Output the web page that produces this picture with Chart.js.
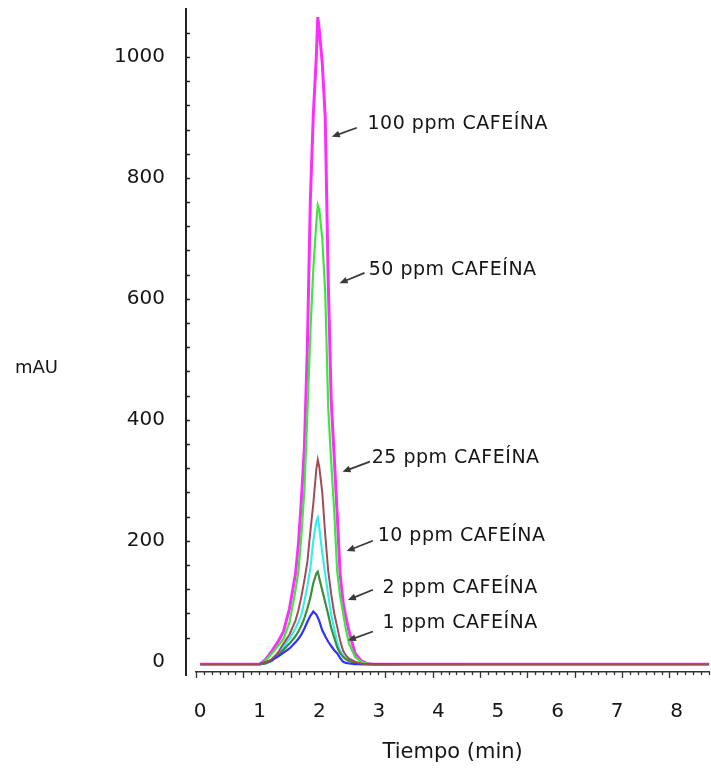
<!DOCTYPE html>
<html><head><meta charset="utf-8">
<script src="https://cdn.jsdelivr.net/npm/chart.js@4.4.1/dist/chart.umd.min.js"></script>
<style>html,body{margin:0;padding:0;background:#fff;} #wrap{width:711px;height:769px;}</style>
</head><body><div id="wrap"><canvas id="c" width="711" height="769"></canvas></div>
<script>
// ---- data (time in min, absorbance in mAU) ----
const times = [0, 0.5, 1.0, 1.1, 1.2, 1.3, 1.4, 1.5, 1.6, 1.65, 1.7, 1.75, 1.8, 1.85, 1.9, 1.95, 1.975, 2.0, 2.05, 2.1, 2.15, 2.2, 2.25, 2.3, 2.35, 2.4, 2.45, 2.5, 2.6, 2.7, 2.8, 2.9, 3.0, 3.35, 3.6, 4.0, 4.45, 5.0, 6.0, 7.0, 8.0, 8.55];
const ppm100 = [-4,-4,-4,4,17,32,50,88,145,195,268,355,520,764,905,1000,1066,1045,990,900,630,433,340,245,145,98,72,50,14,2,-3,-4,-4,-4,-4,-4,-4,-4,-4,-4,-4,-4];
const ppm50  = [null,null,-4,2,13,25,38,65,118,150,210,285,410,545,650,725,755,748,700,610,420,330,250,150,108,80,52,30,8,0,-3,-4,null,null,null,null,null,null,null,null,null,null];
const ppm25  = [-4,-4,-4,-1,4,14,30,45,68,85,108,135,165,215,262,318,334,322,280,210,150,112,80,58,35,18,10,5,0,-3,-4,-4,-4,-4,-4,-4,-4,-4,-4,-4,-4,-4];
const ppm10  = [null,null,-4,-3,2,10,24,38,55,66,78,100,125,155,200,232,238,222,180,145,110,78,55,32,18,10,5,2,-2,-4,-4,-4,null,null,null,null,null,null,null,null,null,null];
const ppm2   = [null,null,-4,-3,1,10,20,30,42,50,60,72,88,106,130,146,149,138,118,98,78,56,40,24,14,8,4,1,-2,-4,-4,-4,-4,-4,-4,-4,-4,null,null,null,null,null];
const ppm1   = [null,null,-4,-1,3,8,15,22,32,38,45,55,66,76,83,78,73,67,52,42,33,26,19,14,6,0,-2,-3,-4,-4,-4,-4,-4,-4,null,null,null,null,null,null,null,null];

const seriesNames = ["100 ppm CAFEÍNA","50 ppm CAFEÍNA","25 ppm CAFEÍNA","10 ppm CAFEÍNA","2 ppm CAFEÍNA","1 ppm CAFEÍNA"];
const xTickValues = [0,1,2,3,4,5,6,7,8];
const yTickValues = [0,200,400,600,800,1000];

// annotation anchors (data units)
const labelT = [2.81, 2.83, 2.88, 2.98, 3.06, 3.06];
const labelV = [889, 648, 336, 207, 121, 64];
const arrowFromT = [2.63, 2.76, 2.85, 2.90, 2.90, 2.90];
const arrowFromV = [883, 643, 331, 200, 119, 50];
const arrowToT = [2.21, 2.34, 2.39, 2.46, 2.48, 2.48];
const arrowToV = [868, 626, 314, 183, 102, 35];

const FONT = "'DejaVu Sans', sans-serif";

const decor = {
  id: 'decor',
  afterDatasetsDraw(chart) {
    const ctx = chart.ctx, xs = chart.scales.x, ys = chart.scales.y, ca = chart.chartArea;
    ctx.save();
    // y axis line (offset left of plot)
    const yx = ca.left - 10;
    ctx.strokeStyle = '#222'; ctx.lineWidth = 2;
    ctx.beginPath(); ctx.moveTo(yx, ca.top); ctx.lineTo(yx, ca.bottom + 4); ctx.stroke();
    ctx.lineWidth = 1.5;
    for (let v = 40; v <= 1060; v += 40) {
      const py = Math.round(ys.getPixelForValue(v)) + 0.5;
      ctx.beginPath(); ctx.moveTo(yx, py); ctx.lineTo(yx + 4, py); ctx.stroke();
    }
    // x minor ticks
    ctx.strokeStyle = '#333'; ctx.lineWidth = 1.3;
    for (let k = 0; ; k++) {
      const t = -0.07 + k * 0.1325;
      if (t > xs.max) break;
      const px = Math.round(xs.getPixelForValue(t)) + 0.5;
      ctx.beginPath(); ctx.moveTo(px, ca.bottom); ctx.lineTo(px, ca.bottom + (k % 6 === 0 ? 6 : 3)); ctx.stroke();
    }
    // annotations
    ctx.fillStyle = '#161616';
    ctx.font = "19px " + FONT;
    ctx.textBaseline = 'middle'; ctx.textAlign = 'left';
    try { ctx.letterSpacing = '0.5px'; } catch(e) {}
    for (let i = 0; i < seriesNames.length; i++) {
      ctx.fillText(seriesNames[i], xs.getPixelForValue(labelT[i]), ys.getPixelForValue(labelV[i]));
      const x1 = xs.getPixelForValue(arrowFromT[i]), y1 = ys.getPixelForValue(arrowFromV[i]);
      const x2 = xs.getPixelForValue(arrowToT[i]), y2 = ys.getPixelForValue(arrowToV[i]);
      const ang = Math.atan2(y2 - y1, x2 - x1);
      ctx.strokeStyle = '#3a3a3a'; ctx.lineWidth = 1.8;
      ctx.beginPath(); ctx.moveTo(x1, y1); ctx.lineTo(x2 - 5 * Math.cos(ang), y2 - 5 * Math.sin(ang)); ctx.stroke();
      ctx.fillStyle = '#3a3a3a';
      ctx.beginPath();
      ctx.moveTo(x2, y2);
      ctx.lineTo(x2 - 8 * Math.cos(ang) + 3.5 * Math.sin(ang), y2 - 8 * Math.sin(ang) - 3.5 * Math.cos(ang));
      ctx.lineTo(x2 - 8 * Math.cos(ang) - 3.5 * Math.sin(ang), y2 - 8 * Math.sin(ang) + 3.5 * Math.cos(ang));
      ctx.closePath(); ctx.fill();
      ctx.fillStyle = '#161616';
    }
    try { ctx.letterSpacing = '0px'; } catch(e) {}
    // y axis title
    ctx.font = "18px " + FONT;
    ctx.fillText('mAU', 15, 368);
    ctx.restore();
  }
};

function ds(label, data, color, width, order) {
  return { label, borderColor: color, backgroundColor: color, borderWidth: width,
           pointRadius: 0, tension: 0, spanGaps: false, order, fill: false,
           data: data.map((v, i) => ({ x: times[i], y: v })) };
}

new Chart(document.getElementById('c'), {
  type: 'line',
  data: {
    datasets: [
      ds(seriesNames[0], ppm100, '#ff2bff', 3, 6),
      ds(seriesNames[1], ppm50, '#3ce83c', 2.2, 5),
      ds(seriesNames[2], ppm25, '#a24c58', 2, 1),
      ds(seriesNames[3], ppm10, '#33f0f0', 2.2, 4),
      ds(seriesNames[4], ppm2, '#3d8f3d', 2.2, 3),
      ds(seriesNames[5], ppm1, '#3030ff', 2.2, 2)
    ]
  },
  options: {
    responsive: false, devicePixelRatio: 1, animation: false,
    layout: { padding: { left: 114, right: 0, top: 8, bottom: 0 } },
    plugins: { legend: { display: false }, tooltip: { enabled: false } },
    scales: {
      x: {
        type: 'linear', min: -0.07, max: 8.55,
        afterBuildTicks: s => { s.ticks = xTickValues.map(v => ({ value: v })); },
        afterFit: s => { s.height = 97; },
        grid: { display: false, drawTicks: false },
        border: { display: true, color: '#333', width: 1.5 },
        ticks: { padding: 28, color: '#161616', font: { family: FONT, size: 20 }, maxRotation: 0, autoSkip: false,
                 callback: v => String(v) },
        title: { display: true, text: 'Tiempo (min)', color: '#161616', font: { family: FONT, size: 21 }, padding: { top: 0, bottom: 4 } }
      },
      y: {
        type: 'linear', min: -17, max: 1081,
        afterBuildTicks: s => { s.ticks = yTickValues.map(v => ({ value: v })); },
        afterFit: s => { s.width = 82; },
        grid: { display: false, drawTicks: true, tickLength: 35 },
        border: { display: false },
        ticks: { padding: -4, color: '#161616', font: { family: FONT, size: 20 }, callback: v => String(v) }
      }
    }
  },
  plugins: [decor]
});
</script>
</body></html>
